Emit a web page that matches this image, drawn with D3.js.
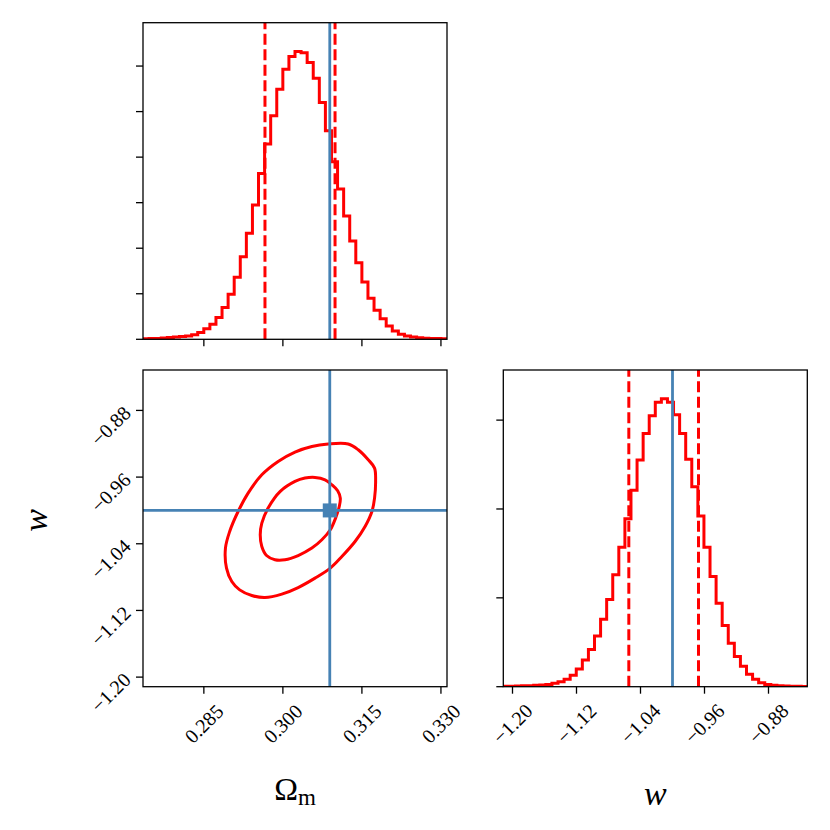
<!DOCTYPE html>
<html>
<head>
<meta charset="utf-8">
<script src="https://cdn.jsdelivr.net/npm/d3@7"></script>
<style>
html,body{margin:0;padding:0;background:#fff;}
svg text{font-family:"Liberation Serif","DejaVu Serif",serif;fill:#000;}
</style>
</head>
<body>
<svg id="c" width="830" height="830"></svg>
<script>
// ---------------- data ----------------
const omDomain = [0.27345, 0.33115];
const wDomain = [-1.2115, -0.8315];
const omTicks = [0.285, 0.300, 0.315, 0.330];
const wTicks = [-1.20, -1.12, -1.04, -0.96, -0.88];
const omTruth = 0.3089;
const wTruth = -1.0;
const omQuantiles = [0.2966, 0.3099];
const wQuantiles = [-1.0546, -0.9675];
// 50-bin histogram heights (arbitrary units; y ticks at integer units)
const omHist = [0.01,0.015,0.02,0.03,0.04,0.05,0.06,0.07,0.10,0.15,
  0.23,0.33,0.48,0.70,0.99,1.36,1.81,2.33,2.95,3.64,
  4.29,4.91,5.49,5.93,6.21,6.32,6.29,6.08,5.73,5.20,
  4.58,3.90,3.30,2.71,2.16,1.68,1.26,0.90,0.64,0.45,
  0.29,0.18,0.11,0.07,0.05,0.035,0.025,0.02,0.015,0.01];
const wHist = [0.004,0.004,0.008,0.01,0.012,0.015,0.02,0.026,0.04,0.056,
  0.083,0.13,0.20,0.30,0.42,0.57,0.76,0.98,1.26,1.57,
  1.89,2.21,2.55,2.85,3.05,3.20,3.24,3.20,3.06,2.85,
  2.56,2.25,1.92,1.57,1.24,0.94,0.69,0.49,0.34,0.23,
  0.14,0.083,0.045,0.026,0.015,0.011,0.008,0.006,0.004,0.003];
const omHistTicks = [0,1,2,3,4,5,6];
const wHistTicks = [0,1,2,3];
// 2D contour levels [Ωm, w]
const outerContour = [[0.3055,-0.9232],[0.3086,-0.9203],[0.3124,-0.9203],[0.3143,-0.9272],
  [0.3162,-0.9392],[0.3174,-0.9492],[0.3176,-0.9652],[0.3174,-0.9852],[0.3169,-1.0013],
  [0.3156,-1.0193],[0.3137,-1.0373],[0.3112,-1.0553],[0.3090,-1.0692],[0.3061,-1.0812],
  [0.3029,-1.0925],[0.2998,-1.1004],[0.2966,-1.1045],[0.2941,-1.1021],[0.2918,-1.0953],
  [0.2903,-1.0853],[0.2893,-1.0692],[0.2891,-1.0452],[0.2899,-1.0253],[0.2915,-1.0013],
  [0.2934,-0.9792],[0.2960,-0.9572],[0.2991,-0.9412],[0.3023,-0.9299]];
const innerContour = [[0.3061,-0.9604],[0.3080,-0.9632],[0.3093,-0.9692],[0.3104,-0.9764],
  [0.3109,-0.9852],[0.3107,-0.9953],[0.3100,-1.0092],[0.3090,-1.0232],[0.3074,-1.0352],
  [0.3055,-1.0452],[0.3029,-1.0541],[0.3004,-1.0592],[0.2985,-1.0592],[0.2969,-1.0541],
  [0.2960,-1.0433],[0.2957,-1.0292],[0.2960,-1.0152],[0.2972,-0.9972],[0.2995,-0.9772],
  [0.3023,-0.9652],[0.3042,-0.9612]];

// ---------------- layout ----------------
const RED = "#ff0000", BLUE = "#4682b4";
const LW = 3, BLW = 2.8, TICK = 7;
const colX = [[143, 447], [503.3, 807.3]];
const rowY = [[22.7, 339.3], [370, 686.7]];
const svg = d3.select("#c");

const xOm = d3.scaleLinear().domain(omDomain).range(colX[0]);
const xW = d3.scaleLinear().domain(wDomain).range(colX[1]);
const yW = d3.scaleLinear().domain(wDomain).range([rowY[1][1], rowY[1][0]]);
const yOmH = d3.scaleLinear().domain([0, 1.1 * d3.max(omHist)]).range([rowY[0][1], rowY[0][0]]);
const yWH = d3.scaleLinear().domain([0, 1.1 * d3.max(wHist)]).range([rowY[1][1], rowY[1][0]]);

const fmtOm = d3.format(".3f"), fmtW = d3.format(".2f");

function panel(id, xs, ys) {
  const g = svg.append("g");
  g.append("clipPath").attr("id", id).append("rect")
    .attr("x", xs.range()[0]).attr("y", ys.range()[1])
    .attr("width", xs.range()[1] - xs.range()[0]).attr("height", ys.range()[0] - ys.range()[1]);
  const inner = g.append("g").attr("clip-path", `url(#${id})`);
  return {g, inner};
}

function frame(g, xs, ys) {
  g.append("rect").attr("x", xs.range()[0]).attr("y", ys.range()[1])
    .attr("width", xs.range()[1] - xs.range()[0]).attr("height", ys.range()[0] - ys.range()[1])
    .attr("fill", "none").attr("stroke", "#000").attr("stroke-width", 1.3);
}

function xTicks(g, xs, ys, ticks, fmt) {
  const y0 = ys.range()[0];
  ticks.forEach(t => {
    g.append("line").attr("x1", xs(t)).attr("x2", xs(t)).attr("y1", y0).attr("y2", y0 + TICK)
      .attr("stroke", "#000").attr("stroke-width", 1.3);
    if (fmt) {
      g.append("text").attr("transform", `translate(${xs(t)},${y0 + 37}) rotate(-45)`)
        .attr("text-anchor", "middle").attr("dominant-baseline", "central")
        .attr("font-size", 20).text(fmt(t));
    }
  });
}
function yTicks(g, xs, ys, ticks, fmt) {
  const x0 = xs.range()[0];
  ticks.forEach(t => {
    g.append("line").attr("x1", x0 - TICK).attr("x2", x0).attr("y1", ys(t)).attr("y2", ys(t))
      .attr("stroke", "#000").attr("stroke-width", 1.3);
    if (fmt) {
      g.append("text").attr("transform", `translate(${x0 - 11},${ys(t) + 4}) rotate(-45)`)
        .attr("text-anchor", "end").attr("font-size", 20).text(fmt(t));
    }
  });
}

function histogram(inner, xs, ys, vals) {
  const d = xs.domain();
  const n = vals.length;
  const edges = d3.range(n + 1).map(i => d[0] + (d[1] - d[0]) * i / n);
  const pts = [];
  vals.forEach((v, i) => { pts.push([edges[i], v]); pts.push([edges[i + 1], v]); });
  inner.append("path").datum(pts)
    .attr("d", d3.line().x(p => xs(p[0])).y(p => ys(p[1])))
    .attr("fill", "none").attr("stroke", RED).attr("stroke-width", LW)
    .attr("stroke-linejoin", "miter");
}
function vline(inner, xs, ys, v, color, dashed) {
  const l = inner.append("line").attr("x1", xs(v)).attr("x2", xs(v))
    .attr("y1", ys.range()[0]).attr("y2", ys.range()[1])
    .attr("stroke", color).attr("stroke-width", dashed ? LW : BLW);
  if (dashed) l.attr("stroke-dasharray", "11,4.5");
}

// ---- Top-left: Ωm histogram ----
{
  const {g, inner} = panel("p00", xOm, yOmH);
  histogram(inner, xOm, yOmH, omHist);
  omQuantiles.forEach(q => vline(inner, xOm, yOmH, q, RED, true));
  vline(inner, xOm, yOmH, omTruth, BLUE, false);
  frame(g, xOm, yOmH);
  xTicks(g, xOm, yOmH, omTicks, null);
  yTicks(g, xOm, yOmH, omHistTicks, null);
}

// ---- Bottom-left: 2D contours ----
{
  const {g, inner} = panel("p10", xOm, yW);
  const line = d3.line().x(p => xOm(p[0])).y(p => yW(p[1])).curve(d3.curveCatmullRomClosed.alpha(0.5));
  [outerContour, innerContour].forEach(c => {
    inner.append("path").datum(c).attr("d", line)
      .attr("fill", "none").attr("stroke", RED).attr("stroke-width", LW);
  });
  vline(inner, xOm, yW, omTruth, BLUE, false);
  inner.append("line").attr("x1", xOm.range()[0]).attr("x2", xOm.range()[1])
    .attr("y1", yW(wTruth)).attr("y2", yW(wTruth))
    .attr("stroke", BLUE).attr("stroke-width", BLW);
  inner.append("rect").attr("x", xOm(omTruth) - 7).attr("y", yW(wTruth) - 7)
    .attr("width", 14).attr("height", 14).attr("fill", BLUE);
  frame(g, xOm, yW);
  xTicks(g, xOm, yW, omTicks, fmtOm);
  yTicks(g, xOm, yW, wTicks, fmtW);
}

// ---- Bottom-right: w histogram ----
{
  const {g, inner} = panel("p11", xW, yWH);
  histogram(inner, xW, yWH, wHist);
  wQuantiles.forEach(q => vline(inner, xW, yWH, q, RED, true));
  vline(inner, xW, yWH, wTruth, BLUE, false);
  frame(g, xW, yWH);
  xTicks(g, xW, yWH, wTicks, fmtW);
  yTicks(g, xW, yWH, wHistTicks, null);
}

// ---- axis labels ----
{
  const cx0 = (colX[0][0] + colX[0][1]) / 2;
  const t = svg.append("text").attr("x", cx0).attr("y", 800)
    .attr("text-anchor", "middle").attr("font-size", 32);
  t.append("tspan").text("Ω");
  t.append("tspan").attr("font-size", 23).attr("dy", 5).text("m");

  const cx1 = (colX[1][0] + colX[1][1]) / 2;
  svg.append("text").attr("x", cx1).attr("y", 805)
    .attr("text-anchor", "middle").attr("font-size", 34).attr("font-style", "italic").text("w");

  svg.append("text").attr("transform", `translate(46.5,${(rowY[1][0] + rowY[1][1]) / 2 - 8}) rotate(-90)`)
    .attr("text-anchor", "middle").attr("font-size", 34).attr("font-style", "italic").text("w");
}
</script>
</body>
</html>
